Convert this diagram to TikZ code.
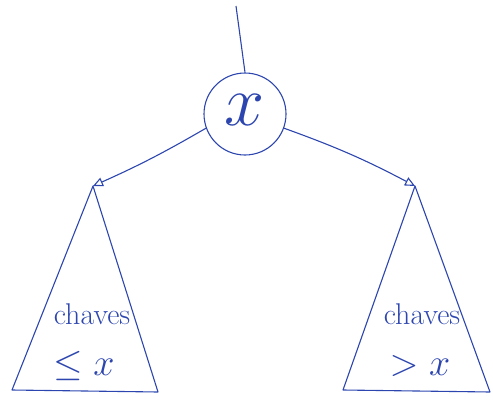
\RequirePackage{fix-cm}
\documentclass[tikz,border=0pt]{standalone}
\usetikzlibrary{arrows.meta}
\definecolor{ink}{RGB}{45,70,175}
\begin{document}
\begin{tikzpicture}[x=1pt,y=-1pt,
  pen/.style={draw=ink,line width=1.1pt},
  lbl/.style={text=ink,font=\fontsize{30}{34}\selectfont,inner sep=0pt},
  mlbl/.style={text=ink,font=\fontsize{38}{42}\selectfont,inner sep=0pt},
  link/.style={pen,-{Triangle[open,length=10pt,width=9pt]}}]
\useasboundingbox (0,0) rectangle (493,402);
\coordinate (top) at (236,6);
\node[circle,pen,minimum size=82pt,inner sep=0pt] (root) at (245,114) {};
\node[text=ink,font=\fontsize{72}{76}\selectfont,inner sep=0pt] (rx) at (245,110) {$x$};
% left subtree
\coordinate (la) at (93,186);
\coordinate (lb) at (12,390);
\coordinate (lc) at (158,392);
\draw[pen,line join=round] (la) -- (lb) -- (lc) -- cycle;
\node[lbl] (lt1) at (92,314) {chaves};
\node[mlbl] (lt2) at (84,366) {$\leq x$};
% right subtree
\coordinate (ra) at (415,186);
\coordinate (rb) at (343,390);
\coordinate (rc) at (490,392);
\draw[pen,line join=round] (ra) -- (rb) -- (rc) -- cycle;
\node[lbl] (rt1) at (422,314) {chaves};
\node[mlbl] (rt2) at (420,366) {$> x$};
% connectors
\draw[pen] (top) -- (root.north);
\draw[link] (root.200) to[bend left=3] (la);
\draw[link] (root.-20) to[bend left=4] (ra);
\end{tikzpicture}
\end{document}
